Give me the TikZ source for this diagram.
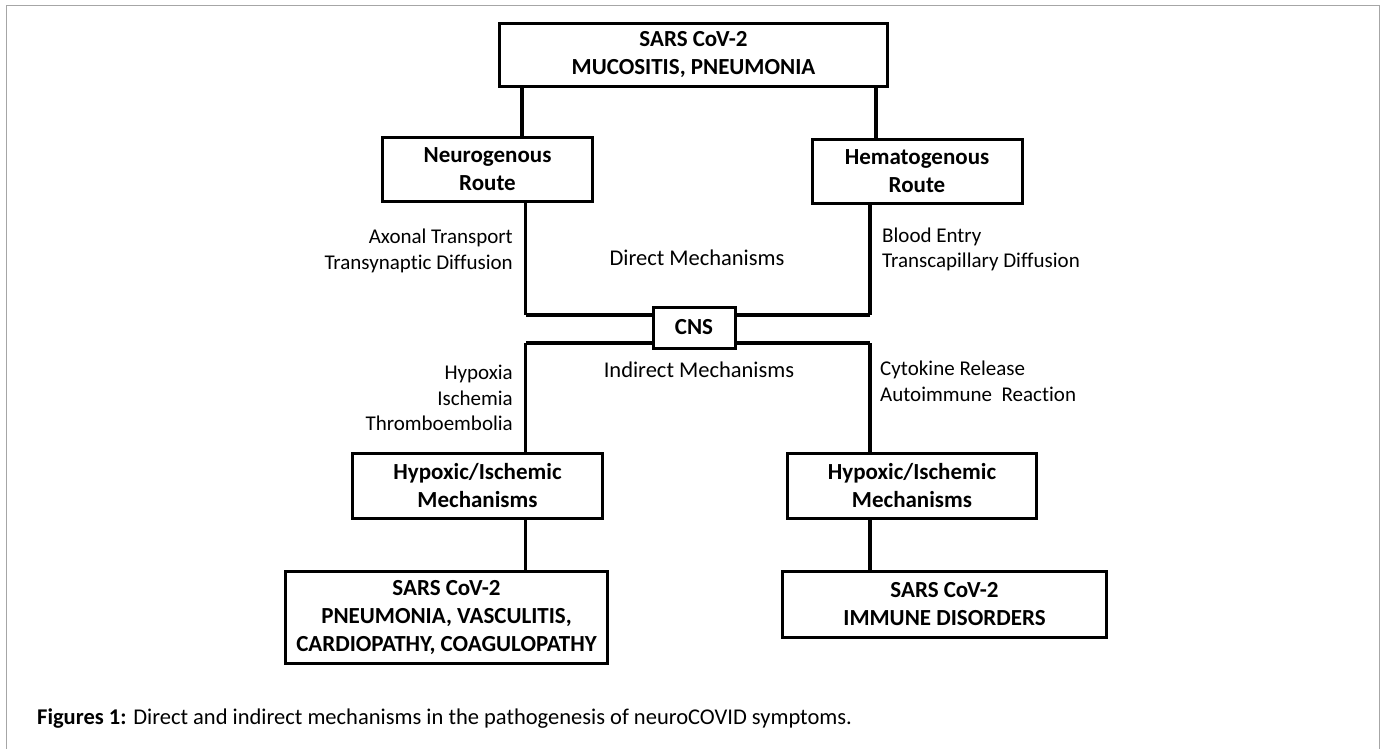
\documentclass[tikz,border=0pt]{standalone}
\usepackage{fontspec}
\setmainfont{Carlito}[Ligatures=NoCommon]
\begin{document}
\begin{tikzpicture}[x=1pt,y=-1pt,
  box/.style={draw, line width=3pt, inner sep=0pt, align=center,
    font=\fontsize{23}{28}\selectfont\bfseries},
  conn/.style={line width=3.5pt},
  hconn/.style={line width=4.5pt},
  lbl/.style={inner sep=0pt, font=\fontsize{21}{25.5}\selectfont},
  mlbl/.style={inner sep=0pt, font=\fontsize{22.5}{26}\selectfont},
  frame/.style={draw=gray!70, line width=1pt}]
\useasboundingbox (0,0) rectangle (1385,749);
\draw[frame] (6,749) -- (6,6) -- (1379,6) -- (1379,749);

% boxes
\node[box, minimum width=388, minimum height=63] (top) at (693.5,55) {SARS CoV-2\\MUCOSITIS, PNEUMONIA};
\node[box, minimum width=210, minimum height=64] (neuro) at (487.5,169.5) {Neurogenous\\Route};
\node[box, minimum width=210, minimum height=64] (hemat) at (917,171.5) {Hematogenous\\Route};
\node[box, minimum width=82, minimum height=41] (cns) at (694,327.5) {CNS};
\node[box, minimum width=250, minimum height=65] (lhyp) at (477.5,486) {Hypoxic/Ischemic\\Mechanisms};
\node[box, minimum width=249, minimum height=65] (rhyp) at (912,486) {Hypoxic/Ischemic\\Mechanisms};
\node[box, minimum width=322, minimum height=92] (bl) at (446.5,617.5) {SARS CoV-2\\PNEUMONIA, VASCULITIS,\\CARDIOPATHY, COAGULOPATHY};
\node[box, minimum width=324, minimum height=66] (br) at (944.5,604.5) {SARS CoV-2\\IMMUNE DISORDERS};

% guide coordinates
\coordinate (xa) at (522,0);
\coordinate (xb) at (876,0);
\coordinate (xl) at (525.5,0);
\coordinate (xr) at (870,0);
\coordinate (ya) at (0,315);
\coordinate (yb) at (0,343);

% connectors
\draw[conn] (top.south -| xa) -- (neuro.north -| xa);
\draw[conn] (top.south -| xb) -- (hemat.north -| xb);
\draw[conn] (neuro.south -| xl) -- (ya -| xl);
\draw[hconn] (ya -| xl) -- (cns.west |- ya);
\draw[conn] (hemat.south -| xr) -- (ya -| xr);
\draw[hconn] (ya -| xr) -- (cns.east |- ya);
\draw[hconn] (cns.west |- yb) -- (yb -| xl);
\draw[conn] (yb -| xl) -- (lhyp.north -| xl);
\draw[hconn] (cns.east |- yb) -- (yb -| xr);
\draw[conn] (yb -| xr) -- (rhyp.north -| xr);
\draw[conn] (lhyp.south -| xl) -- (bl.north -| xl);
\draw[conn] (rhyp.south -| xr) -- (br.north -| xr);

% labels
\node[lbl, anchor=east, align=right] (l1) at (513,251) {Axonal Transport\\Transynaptic Diffusion};
\node[lbl, anchor=west, align=left] (l2) at (882,249.5) {Blood Entry\\Transcapillary Diffusion};
\node[mlbl] (l3) at (697,258) {Direct Mechanisms};
\node[mlbl] (l4) at (699,370) {Indirect Mechanisms};
\node[lbl, anchor=east, align=right] (l5) at (513,398) {Hypoxia\\Ischemia\\Thromboembolia};
\node[lbl, anchor=west, align=left] (l6) at (880,381.5) {Cytokine Release\\Autoimmune\ \ Reaction};

% caption
\node[anchor=west, inner sep=0pt, font=\fontsize{22.5}{26}\selectfont] (cap) at (37,719) {\textbf{Figures 1:} Direct and indirect mechanisms in the pathogenesis of neuroCOVID symptoms.};
\end{tikzpicture}
\end{document}
